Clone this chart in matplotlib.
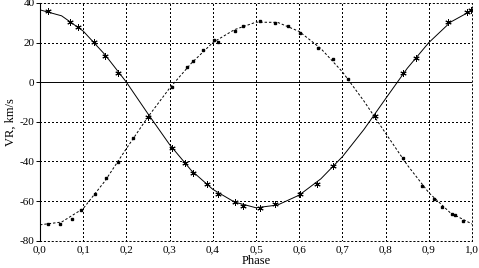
import matplotlib
matplotlib.use('Agg')
import matplotlib.pyplot as plt
from matplotlib.ticker import FuncFormatter

# fitted curves, every 0.05 in phase
curve_phase = [0.00, 0.05, 0.10, 0.15, 0.20, 0.25, 0.30, 0.35, 0.40, 0.45, 0.50,
               0.55, 0.60, 0.65, 0.70, 0.75, 0.80, 0.85, 0.90, 0.95, 1.00]
curve_star1 = [36.5, 33.5, 25.8, 14.0, 0.0, -16.0, -31.5, -44.5, -54.1, -60.5, -63.4,
               -62.0, -57.0, -48.8, -37.6, -23.8, -8.3, 7.0, 20.0, 30.3, 36.3]
curve_star2 = [-72.0, -70.6, -63.8, -50.0, -33.5, -17.5, -3.0, 9.5, 20.0, 26.5, 30.3,
               30.2, 25.6, 17.0, 5.2, -9.6, -25.8, -41.8, -55.8, -66.0, -71.6]

# measured velocities
obs1_phase = [0.019, 0.069, 0.089, 0.124, 0.150, 0.181, 0.251, 0.305, 0.336, 0.355,
              0.386, 0.413, 0.451, 0.470, 0.509, 0.544, 0.602, 0.640, 0.679, 0.775,
              0.841, 0.870, 0.945, 0.988, 0.997]
obs1_vr = [35.8, 30.2, 27.7, 20.2, 13.4, 4.5, -17.6, -33.0, -40.6, -45.6,
           -51.2, -56.2, -60.5, -62.3, -63.6, -61.6, -56.6, -51.2, -42.3, -17.1,
           4.5, 12.3, 30.2, 35.6, 36.5]
obs2_phase = [0.019, 0.046, 0.073, 0.096, 0.127, 0.153, 0.181, 0.216, 0.305, 0.340,
              0.355, 0.378, 0.402, 0.413, 0.451, 0.471, 0.509, 0.544, 0.575, 0.602,
              0.644, 0.679, 0.713, 0.841, 0.883, 0.911, 0.930, 0.953, 0.960, 0.980]
obs2_vr = [-71.7, -71.7, -69.2, -64.6, -56.2, -48.2, -40.1, -28.0, -2.2, 7.9,
           10.6, 16.0, 21.4, 20.2, 26.0, 28.6, 30.7, 29.7, 28.6, 24.7,
           17.3, 11.8, 1.7, -38.1, -52.4, -59.1, -63.0, -66.6, -67.0, -70.3]

x_ticks = [0.0, 0.1, 0.2, 0.3, 0.4, 0.5, 0.6, 0.7, 0.8, 0.9, 1.0]
y_ticks = [-80, -60, -40, -20, 0, 20, 40]

plt.rcParams['font.family'] = ['Liberation Serif', 'DejaVu Serif']
plt.rcParams['axes.unicode_minus'] = False

fig = plt.figure(figsize=(4.79, 2.68), dpi=100)
ax = fig.add_axes([0.0835, 0.102, 0.902, 0.887])

dots = (0, (1.2, 2.8))
grid_style = dict(color='black', lw=0.7, linestyle=dots, antialiased=False)
for x in x_ticks[1:-1]:
    ax.axvline(x, **grid_style)
for y in [-60, -40, -20, 20]:
    ax.axhline(y, **grid_style)
ax.axhline(0, color='black', lw=0.7)

ax.plot(curve_phase, curve_star1, color='black', lw=0.7)
ax.plot(curve_phase, curve_star2, color='black', lw=0.7, linestyle=(0, (2.5, 2)))
ax.plot(obs1_phase, obs1_vr, linestyle='none', marker=(6, 2, 0), ms=4.5,
        mec='black', mew=0.7)
ax.plot(obs2_phase, obs2_vr, linestyle='none', marker='s', ms=2,
        mfc='black', mec='black')

ax.set_xlim(0, 1)
ax.set_ylim(-80, 40)
ax.set_xticks(x_ticks)
ax.set_yticks(y_ticks)
ax.xaxis.set_major_formatter(FuncFormatter(lambda v, p: f'{v:.1f}'.replace('.', ',')))
ax.tick_params(labelsize=8, length=3, width=0.7, direction='out', pad=1)
ax.tick_params(axis='x', length=0, pad=3)

for side in ['top', 'right', 'bottom']:
    ax.spines[side].set_linestyle(dots)
    ax.spines[side].set_linewidth(0.7)
ax.spines['left'].set_linewidth(0.8)

ax.set_xlabel('Phase', fontsize=9, labelpad=1)
ax.set_ylabel('VR, km/s', fontsize=9, labelpad=2)

fig.savefig('out.png', dpi=100)
